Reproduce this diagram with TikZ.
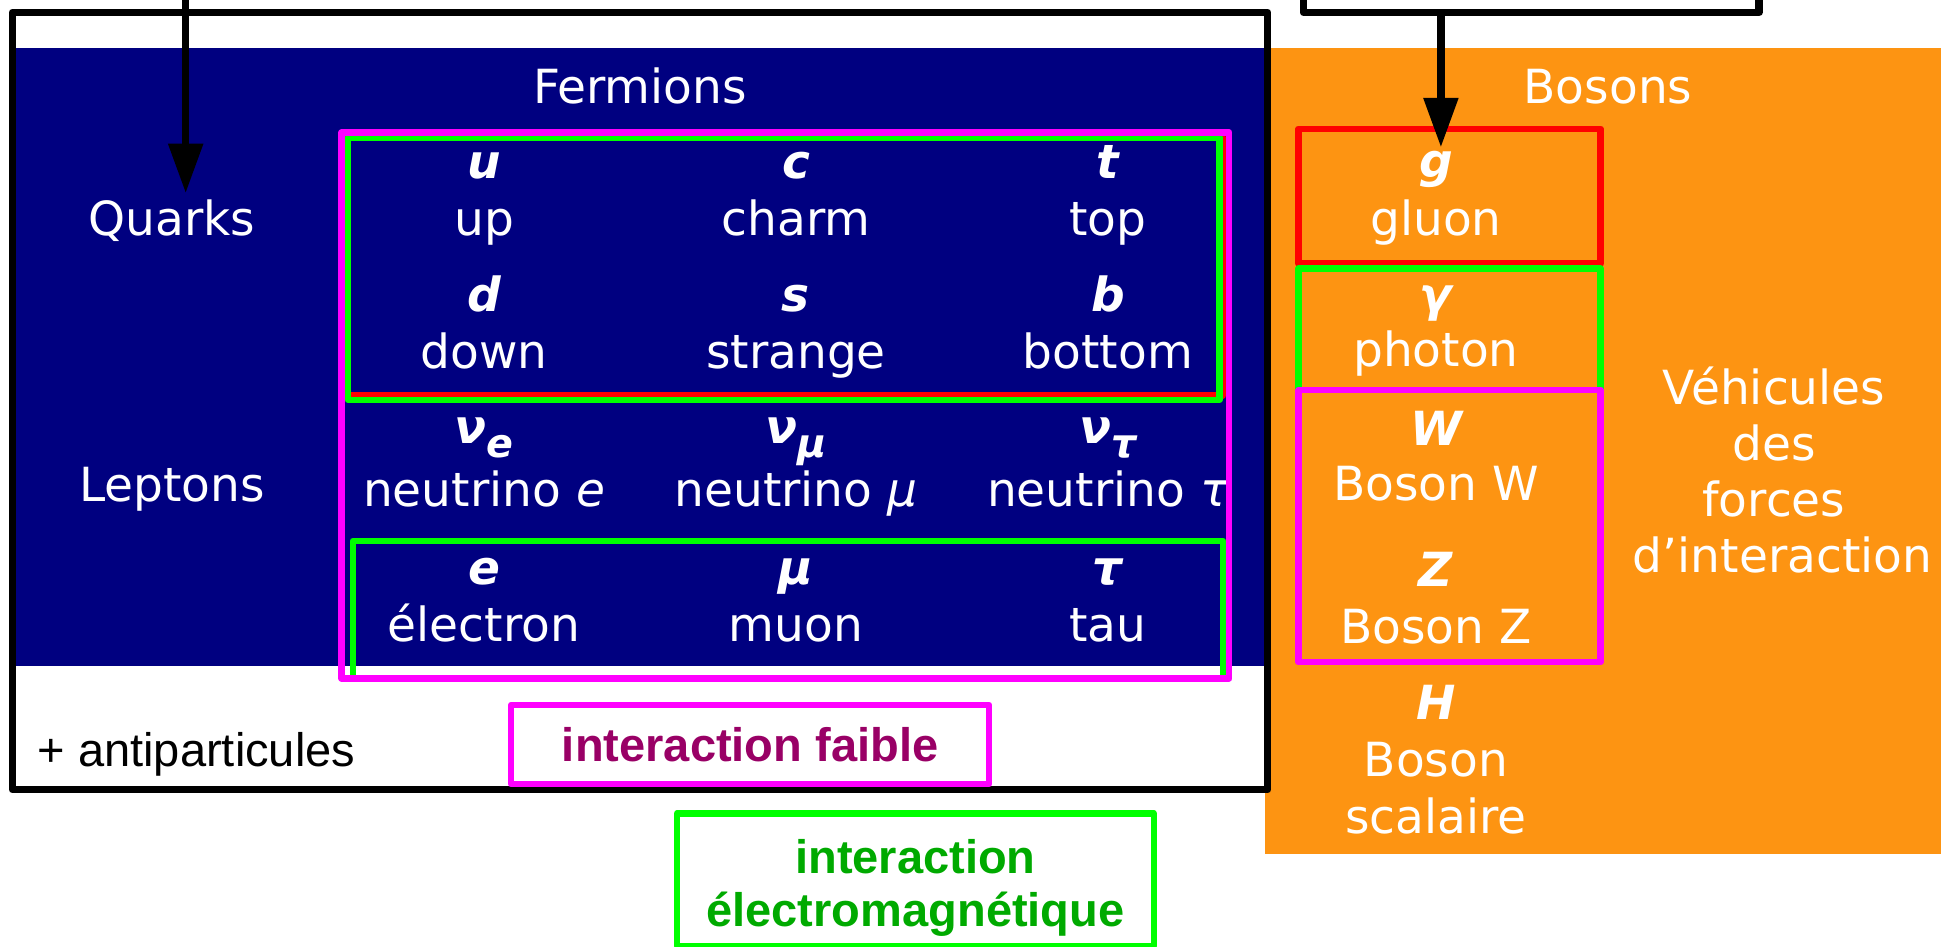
\documentclass[tikz,border=0pt]{standalone}
\usepackage{fontspec}
\setmainfont{DejaVu Sans}
\newfontfamily\arialf{Liberation Sans}
\usetikzlibrary{arrows.meta}
\definecolor{navyc}{RGB}{0,0,128}
\definecolor{orangec}{RGB}{253,148,18}
\definecolor{magc}{RGB}{255,0,255}
\definecolor{grnc}{RGB}{0,255,0}
\definecolor{redc}{RGB}{255,0,0}
\definecolor{purpc}{RGB}{153,0,102}
\definecolor{dgrnc}{RGB}{0,170,0}
\newcommand\subs[1]{\raisebox{-0.3em}{\fontsize{16}{16}\selectfont #1}}
\begin{document}
\begin{tikzpicture}[x=0.5pt,y=-0.5pt,
  frame/.style={line width=2.6pt, line join=round},
  blk/.style={draw=black, line width=3pt, line join=round},
  wt/.style={text=white, inner sep=0pt, anchor=base, font=\fontsize{19}{22.5}\selectfont},
  sy/.style={wt, font=\fontsize{19}{22.5}\selectfont\bfseries\itshape},
  arr/.style={line width=3pt, -{Triangle[length=20pt,width=13.5pt]}},
  ar/.style={inner sep=0pt, font=\arialf\fontsize{19}{22}\selectfont}]
\useasboundingbox (0,0) rectangle (1568,765);
\clip (0,0) rectangle (1568,765);
\fill[white] (0,0) rectangle (1568,765);
% backgrounds
\fill[navyc] (10,39) rectangle (1022,538);
\fill[orangec] (1022,39) rectangle (1568,690);
\draw[blk] (10,10) rectangle (1024,638);
% headings
\node[wt] (fermions) at (517,83.5) {Fermions};
\node[wt] (bosons) at (1299,83.5) {Bosons};
\node[wt] (quarks) at (139,190) {Quarks};
\node[wt] (leptons) at (139,405) {Leptons};
% quarks
\node[sy] (u) at (391,144) {u};
\node[sy] (c) at (643,144) {c};
\node[sy] (t) at (895,144) {t};
\node[wt] (up) at (391,190) {up};
\node[wt] (charm) at (643,190) {charm};
\node[wt] (top) at (895,190) {top};
\node[sy] (d) at (391,252) {d};
\node[sy] (s) at (643,252) {s};
\node[sy] (b) at (895,252) {b};
\node[wt] (down) at (391,297.5) {down};
\node[wt] (strange) at (643,297.5) {strange};
\node[wt] (bottom) at (895,297.5) {bottom};
% leptons
\node[sy] (nue) at (391,358) {ν\subs{e}};
\node[sy] (numu) at (643,358) {ν\subs{μ}};
\node[sy] (nutau) at (895,358) {ν\subs{τ}};
\node[wt] (nuename) at (391,409) {neutrino \textit{e}};
\node[wt] (numuname) at (643,409) {neutrino \textit{μ}};
\begin{scope}
\clip (800,370) rectangle (991,430);
\node[wt] (nutauname) at (895,409) {neutrino \textit{τ}};
\end{scope}
\node[sy] (e) at (391,472.5) {e};
\node[sy] (mu) at (643,472.5) {μ};
\node[sy] (tau) at (895,472.5) {τ};
\node[wt] (electron) at (391,518.5) {électron};
\node[wt] (muon) at (643,518.5) {muon};
\node[wt] (tauname) at (895,518.5) {tau};
% fermion interaction frames
\draw[frame, redc] (281,111) rectangle (988,319.5);
\draw[frame, grnc] (281,111) rectangle (985,323);
\draw[frame, grnc] (285,437) rectangle (988,548);
\draw[frame, magc] (276,107) rectangle (993,548);
% bosons
\node[sy] (g) at (1160,143) {g};
\node[wt] (gluon) at (1160,190) {gluon};
\node[sy] (gamma) at (1160,252) {γ};
\node[wt] (photon) at (1160,296) {photon};
\node[sy] (W) at (1160,359.5) {W};
\node[wt] (bosonW) at (1160,404.5) {Boson W};
\node[sy] (Z) at (1160,474) {Z};
\node[wt] (bosonZ) at (1160,519.5) {Boson Z};
\node[sy] (H) at (1160,581.5) {H};
\node[wt] (bosonH) at (1160,627.5) {Boson};
\node[wt] (scalaire) at (1160,673) {scalaire};
\draw[frame, redc] (1049,104) rectangle (1293,213);
\draw[frame, grnc] (1049,217) rectangle (1293,315);
\draw[frame, magc] (1049,315) rectangle (1293,535);
% vehicles text
\node[wt] (veh1) at (1433,327) {Véhicules};
\node[wt] (veh2) at (1433,372) {des};
\node[wt] (veh3) at (1433,417.5) {forces};
\node[wt] (veh4) at (1440,462.5) {d’interaction};
% bottom labels
\node[ar, anchor=base west] (anti) at (30,619.5) {+ antiparticules};
\node[draw=magc, line width=2.6pt, line join=round, minimum width=193pt, minimum height=32pt,
      inner sep=0pt, outer sep=0pt, text=purpc, font=\arialf\fontsize{19}{22}\selectfont\bfseries]
      (faible) at (606,601.5) {interaction faible};
\node[draw=grnc, line width=2.6pt, line join=round, minimum width=192.5pt, minimum height=53.5pt,
      inner sep=0pt, outer sep=0pt] (embox) at (739.5,710.5) {};
\node[align=center, inner sep=0pt, text=dgrnc, font=\arialf\fontsize{19}{21.5}\selectfont\bfseries]
      (emtext) at (739.5,717) {interaction\\électromagnétique};
% top box and arrows
\node[blk, minimum width=184pt, minimum height=60pt, anchor=south west, inner sep=0pt, outer sep=0pt]
      (topbox) at (1053,10) {};
\coordinate (qsrc) at (150,-40);
\coordinate (qtip) at (150,156);
\draw[arr] (qsrc) -- (qtip);
\coordinate (gtip) at (1164,119);
\draw[arr] (topbox.south -| gtip) -- (gtip);
\end{tikzpicture}
\end{document}
